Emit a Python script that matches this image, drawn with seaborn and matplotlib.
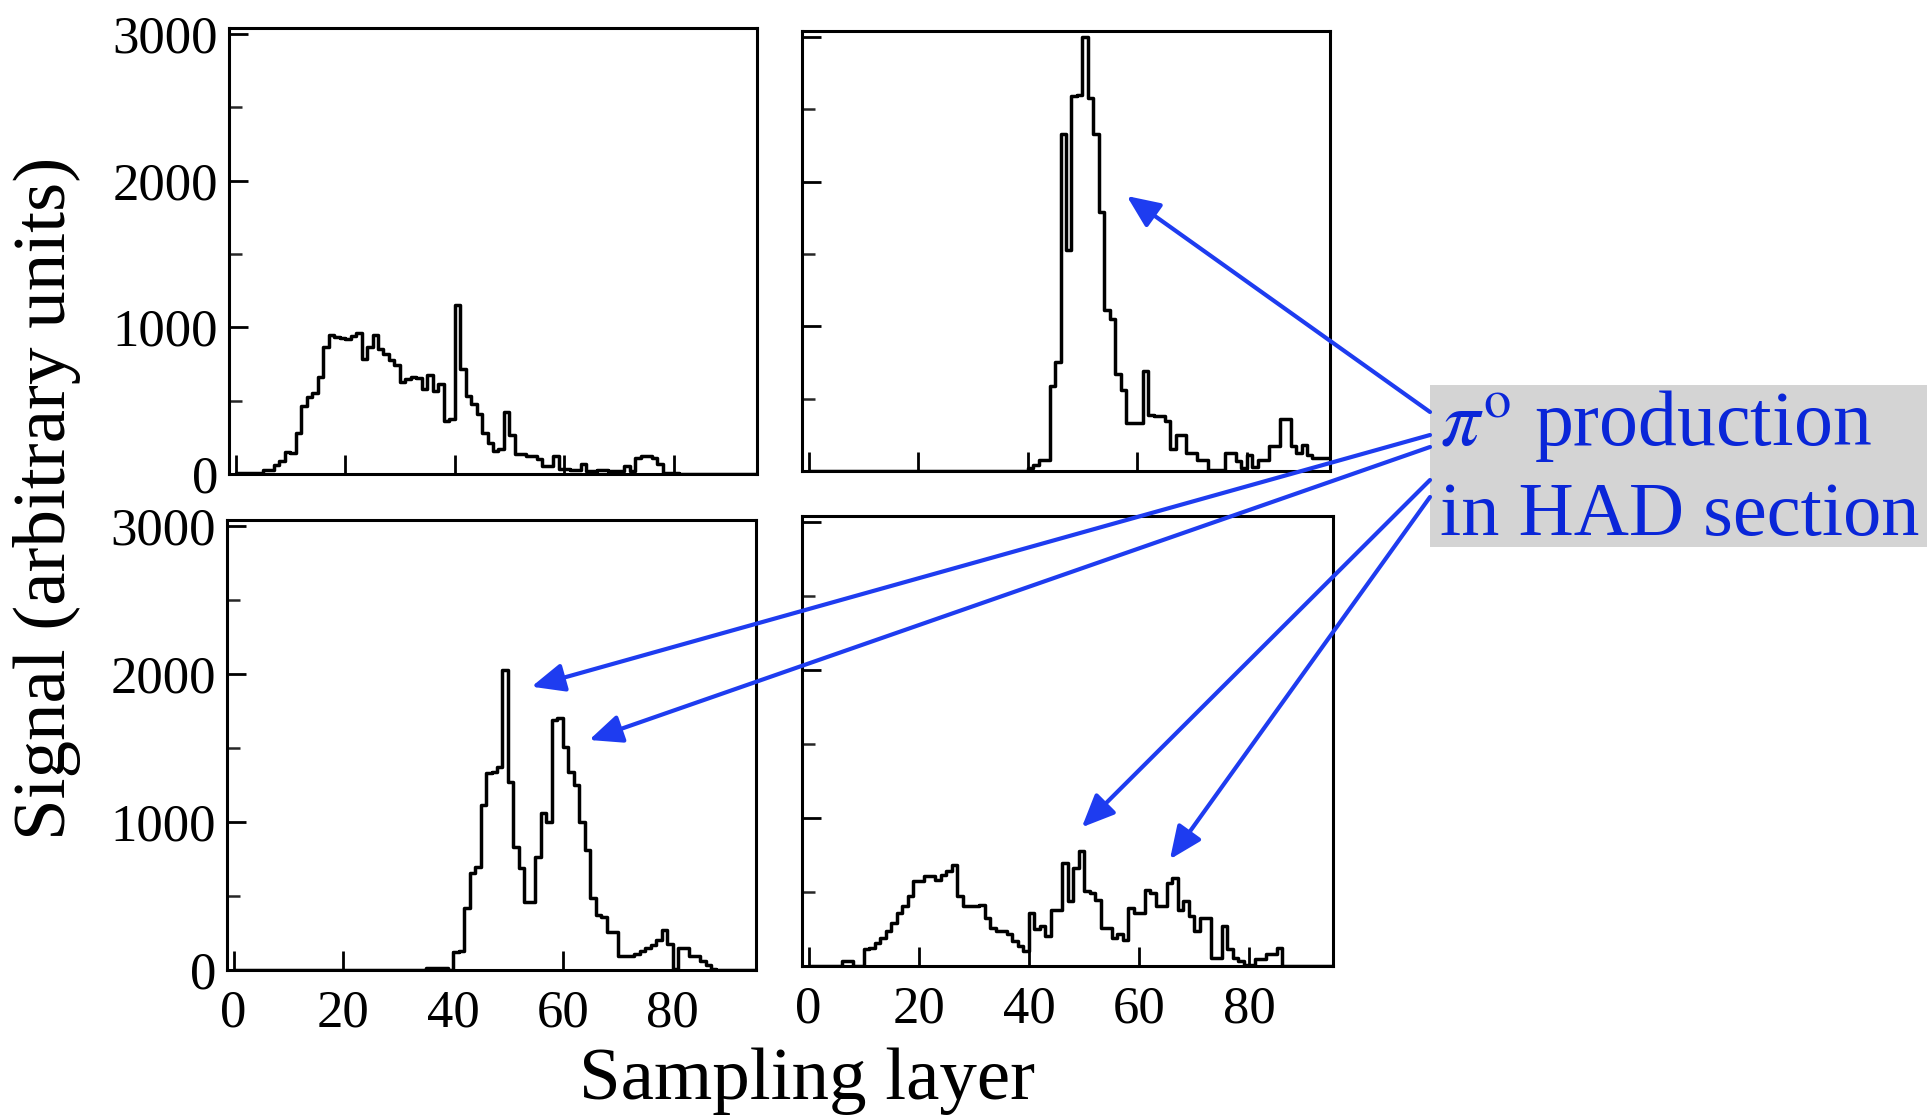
import numpy as np
import pandas as pd
import matplotlib
matplotlib.use("Agg")
import matplotlib.pyplot as plt
import seaborn as sns
from matplotlib.patches import Rectangle
from matplotlib.text import Annotation

# ---------------- data (signal per sampling layer, unit-wide bins 0..94) ----------------
layers = list(range(95))

signal_top_left = [
    10, 10, 10, 10, 10, 30, 30, 60, 90, 150,
    145, 280, 465, 527, 553, 660, 867, 947, 935, 924,
    917, 940, 963, 787, 867, 947, 855, 821, 775, 741,
    626, 649, 660, 654, 580, 677, 569, 615, 362, 374,
    1154, 718, 534, 477, 408, 282, 213, 156, 172, 424,
    264, 133, 133, 122, 122, 99, 53, 53, 126, 34,
    34, 30, 30, 71, 18, 18, 30, 30, 18, 18,
    18, 53, 18, 110, 126, 126, 110, 71, 10, 10,
    10, 0, 0, 0, 0, 0, 0, 0, 0, 0,
    0, 0, 0, 0, 0,
]

signal_top_right = [
    0, 0, 0, 0, 0, 0, 0, 0, 0, 0,
    0, 0, 0, 0, 0, 0, 0, 0, 0, 0,
    0, 0, 0, 0, 0, 0, 0, 0, 0, 0,
    0, 0, 0, 0, 0, 0, 0, 0, 0, 0,
    20, 40, 77, 77, 590, 750, 2330, 1530, 2590, 2600,
    3000, 2580, 2330, 1790, 1110, 1050, 670, 560, 333, 333,
    333, 693, 390, 380, 380, 344, 150, 250, 250, 123,
    123, 77, 77, 7, 7, 7, 123, 123, 70, 20,
    110, 30, 77, 77, 170, 170, 356, 356, 170, 123,
    180, 110, 88, 88, 88,
]

signal_bottom_left = [
    0, 0, 0, 0, 0, 0, 0, 0, 0, 0,
    0, 0, 0, 0, 0, 0, 0, 0, 0, 0,
    0, 0, 0, 0, 0, 0, 0, 0, 0, 0,
    0, 0, 0, 0, 0, 15, 15, 15, 15, 0,
    124, 130, 417, 653, 698, 1115, 1329, 1340, 1374, 2030,
    1272, 833, 687, 462, 462, 766, 1059, 1002, 1690, 1700,
    1509, 1340, 1250, 1002, 811, 487, 372, 360, 255, 255,
    93, 93, 93, 110, 125, 150, 170, 200, 267, 174,
    10, 151, 151, 93, 93, 58, 35, 10, 0, 0,
    0, 0, 0, 0, 0,
]

signal_bottom_right = [
    0, 0, 0, 0, 0, 0, 34, 34, 0, 0,
    112, 123, 157, 190, 235, 291, 359, 404, 471, 572,
    572, 605, 605, 583, 617, 639, 684, 471, 404, 404,
    404, 415, 325, 258, 235, 235, 213, 168, 134, 101,
    359, 247, 269, 202, 381, 381, 695, 437, 661, 780,
    504, 493, 448, 258, 258, 190, 213, 179, 392, 359,
    359, 516, 493, 404, 404, 560, 594, 381, 437, 336,
    235, 325, 325, 56, 56, 269, 112, 56, 34, 5,
    5, 45, 45, 78, 78, 123, 0, 0, 0, 0,
    0, 0, 0, 0, 0,
]

x_ticks = [0, 20, 40, 60, 80]
y_ticks = [0, 1000, 2000, 3000]
y_minor = [500, 1500, 2500]
x_label = "Sampling layer"
y_label = "Signal (arbitrary units)"
note_line1 = r"$\pi^{\mathrm{o}}$ production"
note_line2 = "in HAD section"

# arrow targets: (panel, layer, signal)
arrow_targets = [
    ("tr", 58.1, 1900),
    ("bl", 54.3, 1914),
    ("bl", 64.8, 1554),
    ("br", 49.6, 937),
    ("br", 65.6, 721),
]

# ---------------- style ----------------
sns.set_style("ticks")
plt.rcParams["font.family"] = ["Liberation Serif", "DejaVu Serif"]
plt.rcParams["mathtext.fontset"] = "stix"
plt.rcParams["text.color"] = "black"
plt.rcParams["axes.labelcolor"] = "black"

W, H = 1927, 1118
fig = plt.figure(figsize=(W / 100, H / 100), dpi=100)
fig.patch.set_facecolor("white")

# panel boxes in pixels: left, right, top, bottom
boxes = {
    "tl": (229, 757, 28, 474),
    "tr": (802, 1330, 31, 471),
    "bl": (227, 756, 520, 970),
    "br": (802, 1333, 516, 966),
}
series = {
    "tl": signal_top_left,
    "tr": signal_top_right,
    "bl": signal_bottom_left,
    "br": signal_bottom_right,
}

axes = {}
bin_edges = list(range(96))
for key in ["tl", "tr", "bl", "br"]:
    l, r, t, b = boxes[key]
    ax = fig.add_axes([l / W, 1 - b / H, (r - l) / W, (b - t) / H])
    ax.set_facecolor("none")
    df = pd.DataFrame({"layer": np.array(layers, dtype=float),
                       "signal": np.array(series[key], dtype=float)})
    sns.histplot(data=df, x="layer", weights="signal", bins=bin_edges,
                 element="step", fill=False, color="black",
                 linewidth=2.5, ax=ax)
    ax.set_xlim(-1.2, 95.2)
    ax.set_ylim(0, 3040)
    ax.set_xticks(x_ticks)
    ax.set_yticks(y_ticks)
    ax.set_yticks(y_minor, minor=True)
    ax.set_xlabel("")
    ax.set_ylabel("")
    for sp in ax.spines.values():
        sp.set_visible(True)
        sp.set_linewidth(2.2)
        sp.set_color("black")
    ax.tick_params(axis="both", which="major", direction="in", length=14,
                   width=2.0, labelsize=38, colors="black")
    ax.tick_params(axis="y", which="major", pad=8)
    ax.tick_params(axis="x", which="major", pad=14)
    ax.tick_params(axis="y", which="minor", direction="in", length=9, width=1.8)
    ax.tick_params(labelbottom=key in ("bl", "br"), labelleft=key in ("tl", "bl"))
    axes[key] = ax

fig.text(807 / W, 1 - 1081 / H, x_label, ha="center", va="center",
         fontsize=54, color="black")
fig.text(47 / W, 1 - 498 / H, y_label, ha="center", va="center",
         rotation=90, fontsize=54, color="black")

# annotation box
blue_text = "#0a26d8"
blue_arrow = "#1e3cf0"
fig.add_artist(Rectangle((1430 / W, 1 - 547 / H), (W - 1430) / W, (547 - 385) / H,
                         transform=fig.transFigure, facecolor="#d4d4d4",
                         edgecolor="none", zorder=1))
fig.text(1440 / W, 1 - 445 / H, note_line1, color=blue_text, fontsize=56,
         va="baseline", ha="left", zorder=2)
fig.text(1440 / W, 1 - 535 / H, note_line2, color=blue_text, fontsize=55,
         va="baseline", ha="left", zorder=2)

start_px = [412, 435, 447, 480, 497]
for (key, xv, yv), sy in zip(arrow_targets, start_px):
    ann = Annotation("", xy=(xv, yv), xycoords=axes[key].transData,
                     xytext=(1430 / W, 1 - sy / H), textcoords=fig.transFigure,
                     arrowprops=dict(arrowstyle="-|>,head_length=0.8,head_width=0.35",
                                     color=blue_arrow, lw=3.0, mutation_scale=25,
                                     shrinkA=0, shrinkB=0),
                     annotation_clip=False)
    ann.set_zorder(5)
    fig.add_artist(ann)

fig.savefig("out.png", dpi=100, facecolor="white")
